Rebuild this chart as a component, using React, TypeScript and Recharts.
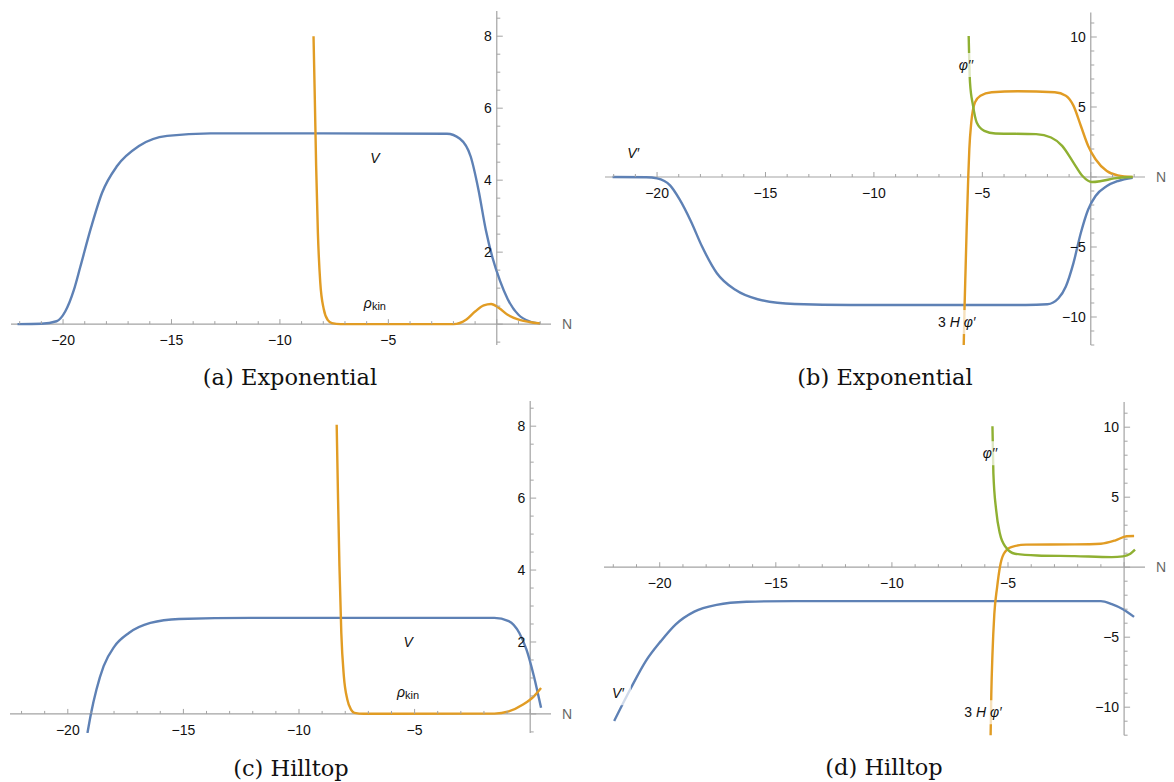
import { LineChart, Line, XAxis, YAxis, ReferenceLine, ReferenceDot } from 'recharts'

type Pt = [number, number]

// (a) Exponential: V and rho_kin against N
const aV: Pt[] = [
  [-22.1, 0], [-21, 0.01], [-20.3, 0.08], [-19.9, 0.35], [-19.5, 0.95], [-19.2, 1.6], [-18.7, 2.7],
  [-18.2, 3.65], [-17.5, 4.4], [-16.5, 4.95], [-15.2, 5.23], [-13.2, 5.3], [-8, 5.3], [-2.3, 5.29],
  [-1.7, 5.15], [-1.2, 4.65], [-0.85, 3.75], [-0.5, 2.6], [-0.2, 1.85], [0.15, 1.2], [0.5, 0.7],
  [1.0, 0.26], [1.5, 0.08], [2.0, 0.02],
]
const aRho: Pt[] = [
  [-8.45, 8.0], [-8.39, 6.25], [-8.33, 4.4], [-8.25, 2.55], [-8.14, 1.16], [-7.98, 0.42], [-7.8, 0.12],
  [-7.6, 0.03], [-7.2, 0], [-2.0, 0], [-1.4, 0.13], [-1.0, 0.35], [-0.6, 0.52], [-0.26, 0.56],
  [0.1, 0.45], [0.5, 0.26], [1.05, 0.12], [1.5, 0.06], [2.0, 0.02],
]

// (b) Exponential: V', 3H phi', phi''
const bVp: Pt[] = [
  [-22.05, 0], [-20.5, -0.02], [-20, -0.1], [-19.4, -0.6], [-18.96, -1.6], [-18.44, -3.16], [-17.93, -4.95],
  [-17.24, -6.87], [-16.39, -8.06], [-15.36, -8.73], [-13.65, -9.07], [-11.08, -9.14], [-3, -9.14],
  [-2.0, -9.09], [-1.49, -8.66], [-1.15, -7.82], [-0.8, -6.15], [-0.46, -4.0], [-0.12, -2.32],
  [0.22, -1.36], [0.74, -0.65], [1.25, -0.29], [1.93, -0.05],
]
const bHphi: Pt[] = [
  [-5.86, -12.1], [-5.82, -9.26], [-5.77, -6.4], [-5.72, -3.5], [-5.65, 0], [-5.6, 2.0], [-5.51, 3.9],
  [-5.34, 5.33], [-5.09, 5.81], [-4.57, 6.05], [-3.37, 6.12], [-1.66, 6.05], [-1.15, 5.81], [-0.8, 5.1],
  [-0.46, 3.66], [-0.12, 2.22], [0.22, 1.27], [0.74, 0.43], [1.25, 0.12], [1.93, 0.01],
]
const bPhi2: Pt[] = [
  [-5.63, 10.07], [-5.57, 6.77], [-5.43, 5.1], [-5.26, 3.9], [-4.91, 3.3], [-4.4, 3.11], [-2.52, 3.06],
  [-1.83, 2.82], [-1.32, 2.22], [-0.8, 1.03], [-0.38, 0.07], [0.05, -0.36], [0.48, -0.29], [1.08, -0.1],
  [1.93, 0],
]

// (c) Hilltop: V and rho_kin
const cV: Pt[] = [
  [-19.15, -0.53], [-19.0, 0], [-18.76, 0.68], [-18.45, 1.33], [-17.98, 1.88], [-17.36, 2.25],
  [-16.43, 2.53], [-15.19, 2.64], [-12.09, 2.67], [-1.55, 2.67], [-0.93, 2.58], [-0.47, 2.25],
  [-0.16, 1.79], [0.16, 1.05], [0.47, 0.17],
]
const cRho: Pt[] = [
  [-8.37, 8.04], [-8.31, 5.96], [-8.25, 4.1], [-8.17, 2.25], [-8.06, 1.05], [-7.91, 0.4], [-7.75, 0.12],
  [-7.6, 0.03], [-7.2, 0.005], [-1.55, 0.01], [-0.93, 0.07], [-0.31, 0.26], [0.16, 0.49], [0.47, 0.72],
]

// (d) Hilltop: V', 3H phi', phi''
const dVp: Pt[] = [
  [-21.96, -10.98], [-21.24, -8.63], [-20.6, -6.71], [-19.95, -5.28], [-19.31, -4.08], [-18.51, -3.17],
  [-17.55, -2.69], [-16.26, -2.47], [-14.18, -2.42], [-1.0, -2.42], [-0.53, -2.64], [-0.05, -3.0],
  [0.43, -3.55],
]
const dHphi: Pt[] = [
  [-5.75, -12.1], [-5.72, -9.11], [-5.67, -6.24], [-5.59, -3.36], [-5.47, -1.44], [-5.35, 0],
  [-5.18, 0.96], [-4.86, 1.44], [-4.22, 1.61], [-2.13, 1.63], [-1.0, 1.68], [-0.37, 1.92], [0.11, 2.21],
  [0.43, 2.23],
]
const dPhi2: Pt[] = [
  [-5.67, 10.07], [-5.63, 6.71], [-5.51, 4.08], [-5.35, 2.4], [-5.1, 1.44], [-4.7, 0.96], [-3.74, 0.84],
  [-2.13, 0.79], [-0.53, 0.72], [-0.05, 0.77], [0.27, 0.96], [0.47, 1.25],
]

// ticks (minor every step, labelled at the major ones)
const xTicksWide = [-22, -21, -20, -19, -18, -17, -16, -15, -14, -13, -12, -11, -10, -9, -8, -7, -6, -5, -4, -3, -2, -1, 0, 1, 2]
const xTicksNarrow = [-22, -21, -20, -19, -18, -17, -16, -15, -14, -13, -12, -11, -10, -9, -8, -7, -6, -5, -4, -3, -2, -1, 0]
const yTicksEnergy = [-0.5, 0, 0.5, 1, 1.5, 2, 2.5, 3, 3.5, 4, 4.5, 5, 5.5, 6, 6.5, 7, 7.5, 8, 8.5]
const yTicksForce = [-12, -11, -10, -9, -8, -7, -6, -5, -4, -3, -2, -1, 0, 1, 2, 3, 4, 5, 6, 7, 8, 9, 10, 11]

const BLUE = '#5E81B5'
const ORANGE = '#E19C24'
const GREEN = '#8FB032'
const AXIS = '#a3a3a3'
const SANS = '"Liberation Sans", Arial, sans-serif'
const AX_H = 20 // room reserved by the (invisible) axis boxes
const AX_W = 20

const toData = (pts: Pt[]) => pts.map(([x, y]) => ({ x, y }))
const fmt = (v: number) => (v < 0 ? '\u2212' + Math.abs(v) : String(v))

type LabelKind = 'V' | 'rho' | 'Vp' | 'phi2' | 'Hphi'

function PlotLabel({ cx, cy, kind, bg }: { cx: number; cy: number; kind: LabelKind; bg?: boolean }) {
  const w = kind === 'Hphi' ? 40 : kind === 'rho' ? 30 : 18
  let body
  if (kind === 'V') body = <tspan fontStyle="italic">V</tspan>
  else if (kind === 'Vp') body = <tspan fontStyle="italic">V′</tspan>
  else if (kind === 'phi2') body = <tspan fontStyle="italic">φ′′</tspan>
  else if (kind === 'rho')
    body = (
      <>
        <tspan fontStyle="italic">ρ</tspan>
        <tspan fontSize={11} dy={3}>kin</tspan>
      </>
    )
  else
    body = (
      <>
        <tspan>3 </tspan>
        <tspan fontStyle="italic">H φ′</tspan>
      </>
    )
  return (
    <g>
      {bg && <rect x={cx - w / 2 - 4} y={cy - 12} width={w + 8} height={24} fill="#fff" opacity={0.7} />}
      <text x={cx} y={cy} textAnchor="middle" dominantBaseline="central" fontFamily={SANS} fontSize={14} fill="#111">
        {body}
      </text>
    </g>
  )
}

type Series = { pts: Pt[]; color: string }
type Note = { x: number; y: number; kind: LabelKind; bg?: boolean }

interface PanelProps {
  box: { left: number; top: number; width: number; height: number }
  inset: { top: number; right: number; bottom: number; left: number }
  xDomain: [number, number]
  yDomain: [number, number]
  xTicks: number[]
  yTicks: number[]
  yMajor: number
  series: Series[]
  notes: Note[]
}

function Panel({ box, inset, xDomain, yDomain, xTicks, yTicks, yMajor, series, notes }: PanelProps) {
  const plotW = box.width - inset.left - inset.right
  const plotH = box.height - inset.top - inset.bottom
  // where the axes cross (origin) inside the svg
  const x0 = inset.left + (-xDomain[0] / (xDomain[1] - xDomain[0])) * plotW
  const y0 = inset.top + (yDomain[1] / (yDomain[1] - yDomain[0])) * plotH
  const margin = { top: inset.top, left: inset.left, right: inset.right - AX_W, bottom: inset.bottom - AX_H }

  const xTick = (p: any) => {
    const v = p.payload.value
    const major = v % 5 === 0
    return (
      <g>
        <line x1={p.x} x2={p.x} y1={y0} y2={y0 - (major ? 5 : 3)} stroke={AXIS} />
        {major && v !== 0 && (
          <text x={p.x} y={y0 + 16} textAnchor="middle" dominantBaseline="central" fontFamily={SANS} fontSize={14} fill="#111">
            {fmt(v)}
          </text>
        )}
      </g>
    )
  }
  const yTick = (p: any) => {
    const v = p.payload.value
    const major = Math.abs(v % yMajor) < 1e-9
    return (
      <g>
        <line x1={x0} x2={x0 + (major ? 6 : 3.5)} y1={p.y} y2={p.y} stroke={AXIS} />
        {major && v !== 0 && (
          <text x={x0 - 5} y={p.y} textAnchor="end" dominantBaseline="central" fontFamily={SANS} fontSize={14} fill="#111">
            {fmt(v)}
          </text>
        )}
      </g>
    )
  }

  return (
    <div style={{ position: 'absolute', left: box.left, top: box.top }}>
      <LineChart width={box.width} height={box.height} margin={margin}>
        <ReferenceLine
          y={0}
          stroke={AXIS}
          strokeWidth={1.2}
          label={{ value: 'N', position: 'right', offset: 11, fill: '#666', fontSize: 14, fontFamily: SANS }}
        />
        <ReferenceLine x={0} stroke={AXIS} strokeWidth={1.2} />
        <XAxis
          type="number"
          dataKey="x"
          domain={xDomain}
          allowDataOverflow
          ticks={xTicks}
          interval={0}
          height={AX_H}
          axisLine={false}
          tickLine={false}
          tick={xTick}
        />
        <YAxis
          type="number"
          dataKey="y"
          orientation="right"
          domain={yDomain}
          allowDataOverflow
          ticks={yTicks}
          interval={0}
          width={AX_W}
          axisLine={false}
          tickLine={false}
          tick={yTick}
        />
        {series.map((s, i) => (
          <Line
            key={i}
            data={toData(s.pts)}
            dataKey="y"
            type="monotone"
            stroke={s.color}
            strokeWidth={2.4}
            dot={false}
            isAnimationActive={false}
          />
        ))}
        {notes.map((n, i) => (
          <ReferenceDot
            key={'n' + i}
            x={n.x}
            y={n.y}
            r={0}
            shape={(p: any) => <PlotLabel cx={p.cx} cy={p.cy} kind={n.kind} bg={n.bg} />}
          />
        ))}
      </LineChart>
    </div>
  )
}

function Caption({ x, y, text }: { x: number; y: number; text: string }) {
  return (
    <div
      style={{
        position: 'absolute',
        left: x,
        top: y,
        transform: 'translate(-50%, -50%)',
        whiteSpace: 'nowrap',
        fontFamily: '"DejaVu Serif", serif',
        fontSize: 22.5,
        lineHeight: 1,
        color: '#111',
      }}
    >
      {text}
    </div>
  )
}

export default function App() {
  return (
    <div style={{ position: 'absolute', left: 0, top: 0, width: 1174, height: 782, background: '#fff', overflow: 'hidden' }}>
      <Panel
        box={{ left: 0, top: 0, width: 600, height: 370 }}
        inset={{ top: 11, right: 49, bottom: 25, left: 11 }}
        xDomain={[-22.4, 2.5]}
        yDomain={[-0.58, 8.7]}
        xTicks={xTicksWide}
        yTicks={yTicksEnergy}
        yMajor={2}
        series={[
          { pts: aV, color: BLUE },
          { pts: aRho, color: ORANGE },
        ]}
        notes={[
          { x: -5.62, y: 4.61, kind: 'V' },
          { x: -5.62, y: 0.58, kind: 'rho' },
        ]}
      />
      <Panel
        box={{ left: 590, top: 0, width: 584, height: 370 }}
        inset={{ top: 12.5, right: 29, bottom: 25, left: 15 }}
        xDomain={[-22.4, 2.5]}
        yDomain={[-12, 11.75]}
        xTicks={xTicksWide}
        yTicks={yTicksForce}
        yMajor={5}
        series={[
          { pts: bVp, color: BLUE },
          { pts: bHphi, color: ORANGE },
          { pts: bPhi2, color: GREEN },
        ]}
        notes={[
          { x: -21.1, y: 1.71, kind: 'Vp' },
          { x: -5.76, y: 8.0, kind: 'phi2', bg: true },
          { x: -6.18, y: -10.36, kind: 'Hphi', bg: true },
        ]}
      />
      <Panel
        box={{ left: 0, top: 390, width: 600, height: 370 }}
        inset={{ top: 11, right: 49, bottom: 27, left: 10 }}
        xDomain={[-22.5, 0.9]}
        yDomain={[-0.53, 8.7]}
        xTicks={xTicksNarrow}
        yTicks={yTicksEnergy}
        yMajor={2}
        series={[
          { pts: cV, color: BLUE },
          { pts: cRho, color: ORANGE },
        ]}
        notes={[
          { x: -5.28, y: 2.0, kind: 'V' },
          { x: -5.28, y: 0.61, kind: 'rho' },
        ]}
      />
      <Panel
        box={{ left: 590, top: 390, width: 584, height: 370 }}
        inset={{ top: 12, right: 29, bottom: 24.8, left: 14 }}
        xDomain={[-22.4, 0.9]}
        yDomain={[-12, 11.8]}
        xTicks={xTicksNarrow}
        yTicks={yTicksForce}
        yMajor={5}
        series={[
          { pts: dVp, color: BLUE },
          { pts: dHphi, color: ORANGE },
          { pts: dPhi2, color: GREEN },
        ]}
        notes={[
          { x: -5.78, y: 8.14, kind: 'phi2', bg: true },
          { x: -21.8, y: -9.0, kind: 'Vp', bg: true },
          { x: -6.08, y: -10.36, kind: 'Hphi', bg: true },
        ]}
      />
      <Caption x={290} y={377} text="(a) Exponential" />
      <Caption x={885} y={377} text="(b) Exponential" />
      <Caption x={291} y={768} text="(c) Hilltop" />
      <Caption x={884} y={767} text="(d) Hilltop" />
    </div>
  )
}
